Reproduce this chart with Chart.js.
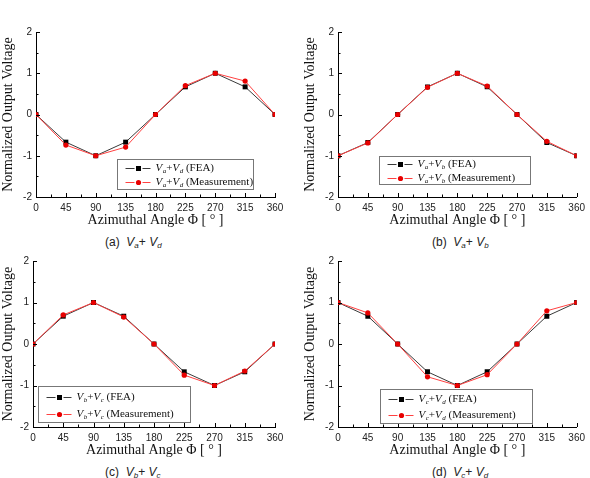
<!DOCTYPE html>
<html>
<head>
<meta charset="utf-8">
<script src="https://cdn.jsdelivr.net/npm/chart.js@4.4.0/dist/chart.umd.min.js"></script>
<style>
  body { margin: 0; background: #fff; width: 590px; height: 478px; position: relative; overflow: hidden; }
  canvas { position: absolute; }
  .cap { position: absolute; font: 12px "Liberation Sans", Arial, sans-serif; color: #222; white-space: nowrap; }
  .cap i { font-style: italic; }
  .cap sub { font-size: 8px; font-style: italic; vertical-align: -2px; line-height: 0; }
</style>
</head>
<body>
<canvas id="pa" width="295" height="235" style="left:0;top:0"></canvas>
<canvas id="pb" width="288" height="235" style="left:302px;top:0"></canvas>
<canvas id="pc" width="295" height="215" style="left:0;top:250px"></canvas>
<canvas id="pd" width="288" height="215" style="left:302px;top:250px"></canvas>
<div class="cap" style="left:105px;top:235px">(a)&nbsp;&nbsp;<i>V</i><sub>a</sub>+&nbsp;<i>V</i><sub>d</sub></div>
<div class="cap" style="left:432px;top:235px">(b)&nbsp;&nbsp;<i>V</i><sub>a</sub>+&nbsp;<i>V</i><sub>b</sub></div>
<div class="cap" style="left:105px;top:465px">(c)&nbsp;&nbsp;<i>V</i><sub>b</sub>+&nbsp;<i>V</i><sub>c</sub></div>
<div class="cap" style="left:432px;top:465px">(d)&nbsp;&nbsp;<i>V</i><sub>c</sub>+&nbsp;<i>V</i><sub>d</sub></div>
<script>
// azimuthal angles (deg)
const angles = [0, 45, 90, 135, 180, 225, 270, 315, 360];
const yTicks = [-2, -1, 0, 1, 2];

// (a) Va+Vd
const feaAD  = [0, -0.67, -1, -0.67, 0, 0.67, 1, 0.67, 0];
const measAD = [0, -0.74, -1, -0.79, 0, 0.70, 1, 0.81, 0];
// (b) Va+Vb
const feaAB  = [-1, -0.68, 0, 0.67, 1, 0.67, 0, -0.68, -1];
const measAB = [-1, -0.69, 0, 0.66, 1, 0.69, 0, -0.65, -1];
// (c) Vb+Vc
const feaBC  = [0, 0.67, 1, 0.67, 0, -0.67, -1, -0.67, 0];
const measBC = [0, 0.70, 1, 0.65, 0, -0.75, -1, -0.65, 0];
// (d) Vc+Vd
const feaCD  = [1, 0.67, 0, -0.67, -1, -0.67, 0, 0.67, 1];
const measCD = [1, 0.75, 0, -0.79, -1, -0.74, 0, 0.80, 1];

const SERIF = '"Liberation Serif", "Times New Roman", serif';
const SANS = '"Liberation Sans", Arial, sans-serif';

// inward minor/major ticks + Origin style legend box
const deco = {
    id: 'deco',
    afterDraw(chart, args, opts) {
        const ctx = chart.ctx;
        const xs = chart.scales.x, ys = chart.scales.y;
        const area = chart.chartArea;
        ctx.save();
        ctx.strokeStyle = '#000';
        ctx.lineWidth = 1;
        ctx.beginPath();
        for (let v = xs.min; v <= xs.max; v += 22.5) {
            const px = Math.round(xs.getPixelForValue(v)) + 0.5;
            const len = v % 45 === 0 ? 4 : 2.5;
            ctx.moveTo(px, area.bottom);
            ctx.lineTo(px, area.bottom - len);
        }
        for (let v = ys.min; v <= ys.max; v += 0.5) {
            const py = Math.round(ys.getPixelForValue(v)) + 0.5;
            const len = Number.isInteger(v) ? 4 : 2.5;
            ctx.moveTo(area.left, py);
            ctx.lineTo(area.left + len, py);
        }
        ctx.stroke();

        // legend box
        const bx = Math.round(area.left + opts.dx) + 0.5;
        const by = Math.round(area.top + opts.dy) + 0.5;
        ctx.strokeStyle = '#777';
        ctx.strokeRect(bx, by, opts.w, opts.h);

        const rows = [by + opts.h * 0.28, by + opts.h * 0.76];
        chart.data.datasets.forEach((ds, i) => {
            const ry = Math.round(rows[i]) + 0.5;
            ctx.strokeStyle = ds.borderColor;
            ctx.beginPath();
            ctx.moveTo(bx + 8, ry); ctx.lineTo(bx + 17, ry);
            ctx.moveTo(bx + 25, ry); ctx.lineTo(bx + 33, ry);
            ctx.stroke();
            ctx.fillStyle = ds.pointBackgroundColor;
            if (ds.pointStyle === 'rect') {
                ctx.fillRect(bx + 18.5, ry - 2.5, 5, 5);
            } else {
                ctx.beginPath();
                ctx.arc(bx + 21, ry, 2.6, 0, Math.PI * 2);
                ctx.fill();
            }
            // label: V_s1 + V_s2 (tag)
            let tx = bx + 38;
            const parts = [
                ['V', 'i'], [opts.subs[0], 's'], ['+', 'n'],
                ['V', 'i'], [opts.subs[1], 's'], [' (' + ds.label + ')', 'n']
            ];
            ctx.fillStyle = '#111';
            ctx.textBaseline = 'middle';
            ctx.textAlign = 'left';
            parts.forEach(([t, k]) => {
                let dy = 0;
                if (k === 'i') ctx.font = 'italic 11px ' + SERIF;
                else if (k === 's') { ctx.font = 'italic 7px ' + SERIF; dy = 3; }
                else ctx.font = '11px ' + SERIF;
                ctx.fillText(t, tx, ry + dy);
                tx += ctx.measureText(t).width + (k === 'i' ? 0.5 : 0);
            });
        });
        ctx.restore();
    }
};

function makePanel(id, fea, meas, cfg) {
    const pts = vals => angles.map((a, i) => ({ x: a, y: vals[i] }));
    return new Chart(document.getElementById(id), {
        type: 'line',
        data: {
            datasets: [{
                label: 'FEA',
                data: pts(fea),
                borderColor: '#3a3a3a',
                borderWidth: 1,
                pointStyle: 'rect',
                pointRadius: 3.5,
                pointBackgroundColor: '#000',
                pointBorderWidth: 0,
                order: 1
            }, {
                label: 'Measurement',
                data: pts(meas),
                borderColor: '#ff4040',
                borderWidth: 1,
                pointStyle: 'circle',
                pointRadius: 2.6,
                pointBackgroundColor: '#e80000',
                pointBorderWidth: 0,
                order: 0
            }]
        },
        options: {
            responsive: false,
            animation: false,
            devicePixelRatio: 1,
            layout: { padding: { top: cfg.top, right: cfg.right, bottom: 0, left: 0 } },
            scales: {
                x: {
                    type: 'linear',
                    min: angles[0],
                    max: angles[angles.length - 1],
                    afterBuildTicks: s => { s.ticks = angles.filter(a => a % 45 === 0).map(v => ({ value: v })); },
                    afterFit: s => { s.height = 38; },
                    grid: { display: true, drawOnChartArea: false, drawTicks: false },
                    border: { display: true, color: '#000', width: 1 },
                    ticks: { padding: 5, color: '#222', font: { family: SANS, size: 10 }, maxRotation: 0 },
                    title: {
                        display: true,
                        text: 'Azimuthal Angle Φ [ ° ]',
                        color: '#111',
                        font: { family: SERIF, size: 14 },
                        padding: { top: 0, bottom: 6 }
                    }
                },
                y: {
                    min: yTicks[0],
                    max: yTicks[yTicks.length - 1],
                    afterBuildTicks: s => { s.ticks = yTicks.map(v => ({ value: v })); },
                    afterFit: s => { s.width = cfg.yw; },
                    grid: { display: true, drawOnChartArea: false, drawTicks: false },
                    border: { display: true, color: '#000', width: 1 },
                    ticks: { padding: 4, color: '#222', font: { family: SANS, size: 10 } },
                    title: {
                        display: true,
                        text: 'Normalized Output Voltage',
                        color: '#111',
                        font: { family: SERIF, size: 14 },
                        padding: { top: 0, bottom: 0 }
                    }
                }
            },
            plugins: {
                legend: { display: false },
                tooltip: { enabled: false },
                deco: cfg.legend
            }
        },
        plugins: [deco]
    });
}

makePanel('pa', feaAD, measAD, { top: 32, right: 20, yw: 36, legend: { dx: 81, dy: 127, w: 136, h: 30, subs: ['a', 'd'] } });
makePanel('pb', feaAB, measAB, { top: 32, right: 12, yw: 36, legend: { dx: 41, dy: 124, w: 151, h: 28, subs: ['a', 'b'] } });
makePanel('pc', feaBC, measBC, { top: 11, right: 20, yw: 33, legend: { dx: 5, dy: 125, w: 152, h: 36, subs: ['b', 'c'] } });
makePanel('pd', feaCD, measCD, { top: 11, right: 12, yw: 36, legend: { dx: 42, dy: 128, w: 152, h: 34, subs: ['c', 'd'] } });
</script>
</body>
</html>
